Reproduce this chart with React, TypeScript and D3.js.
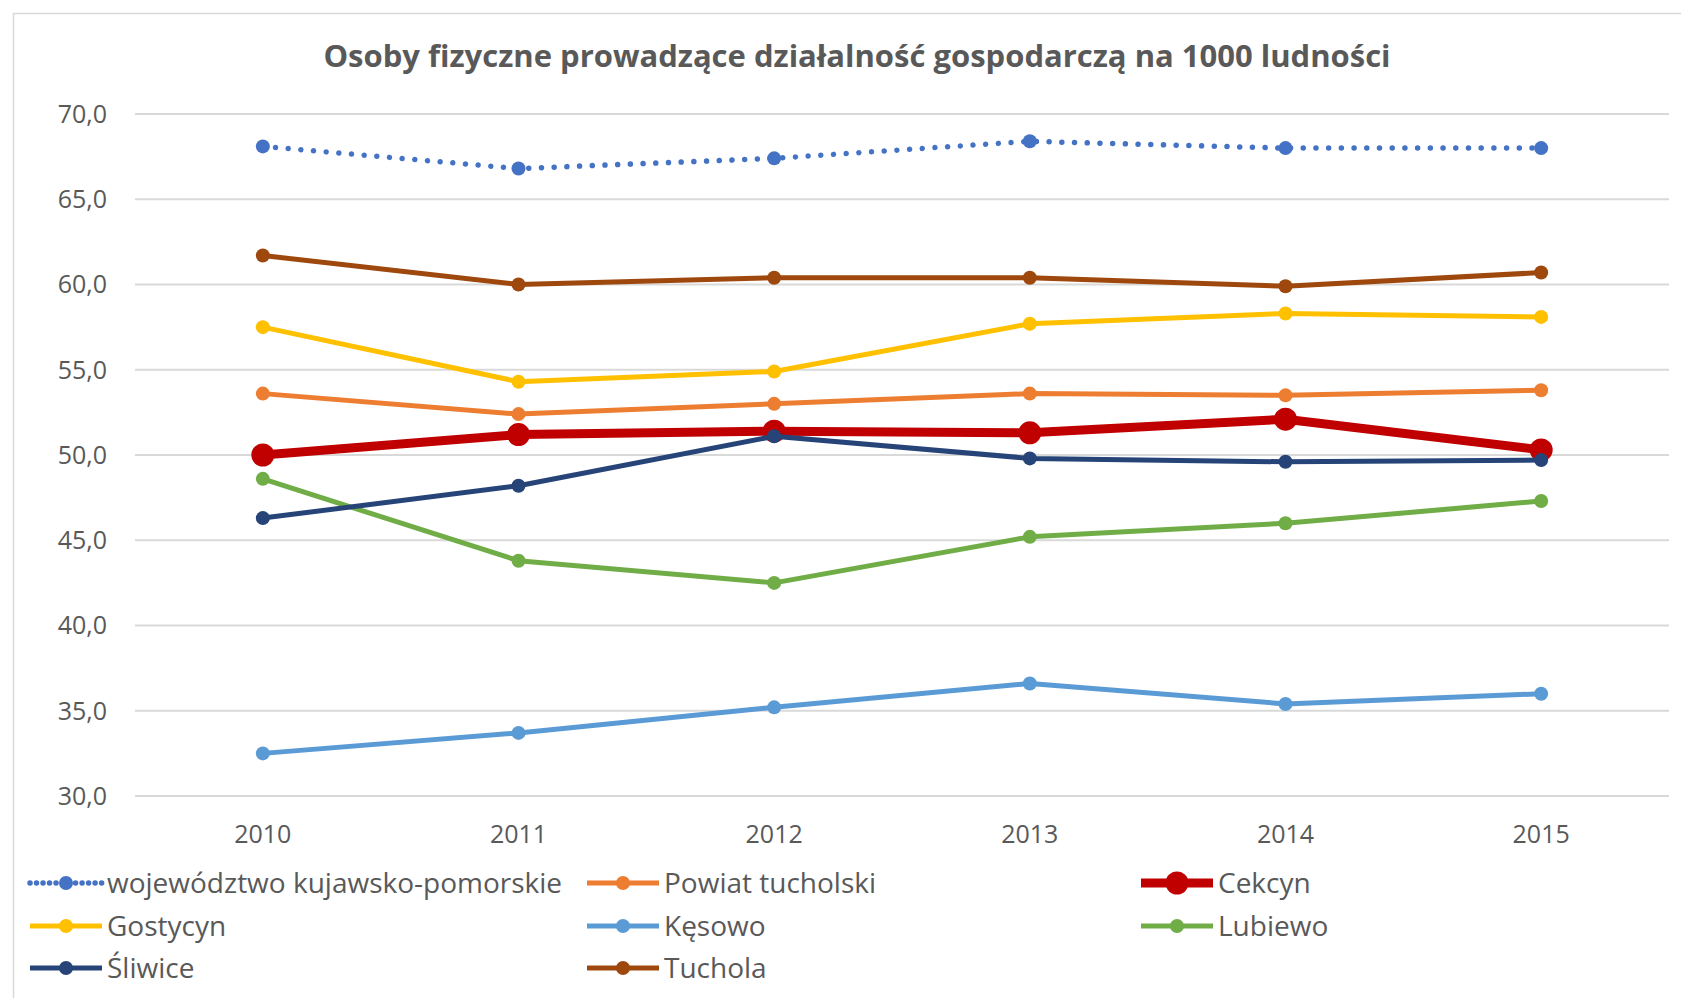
import React from "react";
import * as d3 from "d3";

const years = ["2010", "2011", "2012", "2013", "2014", "2015"];
const yTicks = [30, 35, 40, 45, 50, 55, 60, 65, 70];

const seriesNames = [
  "województwo kujawsko-pomorskie",
  "Powiat tucholski",
  "Cekcyn",
  "Gostycyn",
  "Kęsowo",
  "Lubiewo",
  "Śliwice",
  "Tuchola",
];

const wojewodztwo = [68.1, 66.8, 67.4, 68.4, 68.0, 68.0];
const powiat = [53.6, 52.4, 53.0, 53.6, 53.5, 53.8];
const cekcyn = [50.0, 51.2, 51.4, 51.3, 52.1, 50.3];
const gostycyn = [57.5, 54.3, 54.9, 57.7, 58.3, 58.1];
const kesowo = [32.5, 33.7, 35.2, 36.6, 35.4, 36.0];
const lubiewo = [48.6, 43.8, 42.5, 45.2, 46.0, 47.3];
const sliwice = [46.3, 48.2, 51.1, 49.8, 49.6, 49.7];
const tuchola = [61.7, 60.0, 60.4, 60.4, 59.9, 60.7];

const seriesValues = [wojewodztwo, powiat, cekcyn, gostycyn, kesowo, lubiewo, sliwice, tuchola];
const colors = ["#4472C4", "#ED7D31", "#C00000", "#FFC000", "#5B9BD5", "#70AD47", "#264478", "#9E480E"];

const W = 1681;
const H = 998;
const FONT = "'Open Sans', 'Noto Sans', sans-serif";
const TEXT = "#595959";

export default function App() {
  const x = d3.scaleBand<string>().domain(years).range([135, 1669]).padding(0);
  const cx = (yr: string) => (x(yr) as number) + x.bandwidth() / 2;
  const y = d3.scaleLinear().domain([30, 70]).range([796, 114]);

  const line = d3
    .line<number>()
    .x((_, i) => cx(years[i]))
    .y((d) => y(d));

  const styleOf = (i: number) => {
    if (i === 0) return { w: 5.5, r: 7, dash: "0.01 12.7" };
    if (i === 2) return { w: 9, r: 11.5, dash: undefined };
    return { w: 5, r: 7, dash: undefined };
  };

  const legendCols = [30, 587, 1141];
  const legendRows = [883, 926, 968];

  return (
    <svg
      width={W}
      height={H}
      style={{ position: "absolute", left: 0, top: 0, display: "block", background: "#fff" }}
      fontFamily={FONT}
    >
      <rect x={13.5} y={13.5} width={W + 20} height={H + 20} fill="#fff" stroke="#d9d9d9" strokeWidth={1.5} />
      <text x={857} y={67} textAnchor="middle" fontSize={31} fontWeight={700} fill={TEXT}>
        Osoby fizyczne prowadzące działalność gospodarczą na 1000 ludności
      </text>

      {yTicks.map((t) => (
        <g key={t}>
          <line x1={135} x2={1669} y1={y(t)} y2={y(t)} stroke="#d9d9d9" strokeWidth={2} />
          <text x={107} y={y(t)} dy="0.35em" textAnchor="end" fontSize={25} fill={TEXT}>
            {t.toFixed(1).replace(".", ",")}
          </text>
        </g>
      ))}

      {years.map((yr) => (
        <text key={yr} x={cx(yr)} y={843} textAnchor="middle" fontSize={25} fill={TEXT}>
          {yr}
        </text>
      ))}

      {seriesValues.map((vals, i) => {
        const s = styleOf(i);
        return (
          <g key={seriesNames[i]}>
            <path
              d={line(vals) as string}
              fill="none"
              stroke={colors[i]}
              strokeWidth={s.w}
              strokeDasharray={s.dash}
              strokeLinecap="round"
              strokeLinejoin="round"
            />
            {vals.map((v, j) => (
              <circle key={j} cx={cx(years[j])} cy={y(v)} r={s.r} fill={colors[i]} />
            ))}
          </g>
        );
      })}

      {seriesNames.map((name, i) => {
        const col = legendCols[i % 3];
        const row = legendRows[Math.floor(i / 3)];
        const s = styleOf(i);
        return (
          <g key={name}>
            <line
              x1={col}
              x2={col + 72}
              y1={row}
              y2={row}
              stroke={colors[i]}
              strokeWidth={s.w}
              strokeDasharray={i === 0 ? "0.01 6.5" : undefined}
              strokeLinecap={i === 0 ? "round" : "butt"}
            />
            <circle cx={col + 36} cy={row} r={s.r} fill={colors[i]} />
            <text x={col + 77} y={row} dy="0.35em" fontSize={28} fill={TEXT}>
              {name}
            </text>
          </g>
        );
      })}
    </svg>
  );
}
